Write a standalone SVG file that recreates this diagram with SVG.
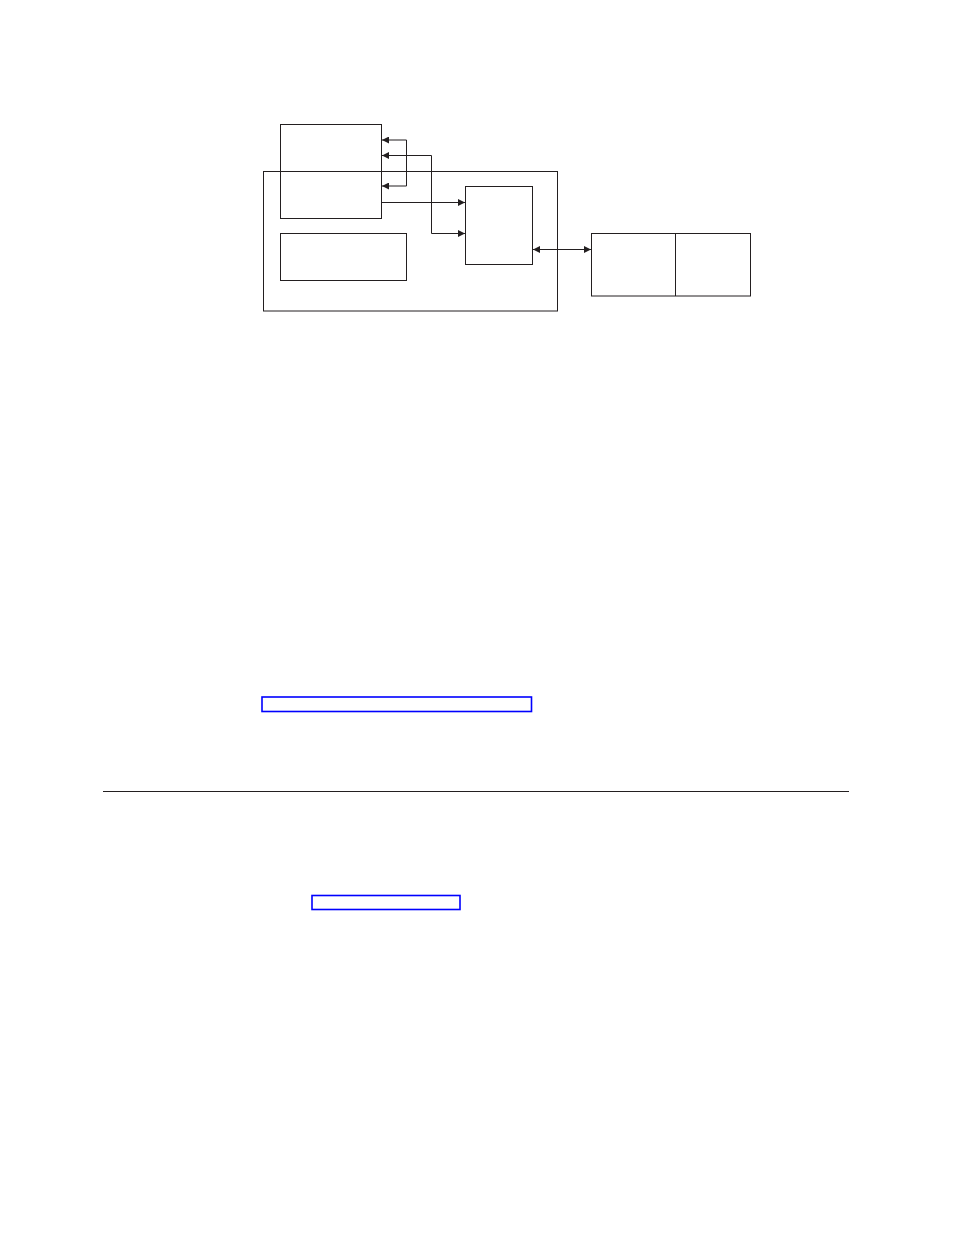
<svg xmlns="http://www.w3.org/2000/svg" width="954" height="1235" viewBox="0 0 954 1235">
<style>
.box{fill:none;stroke:#231f20;stroke-width:1}
.conn{fill:none;stroke:#231f20;stroke-width:1}
.link{fill:none;stroke:#0000ff;stroke-width:1.6}
</style>
<defs>
<marker id="ah" viewBox="0 0 10 10" refX="10" refY="5" markerWidth="9" markerHeight="7" markerUnits="userSpaceOnUse" orient="auto-start-reverse">
<path d="M0,0 L10,5 L0,10 z" fill="#231f20"/>
</marker>
</defs>
<rect width="954" height="1235" fill="#fff"/>
<g id="outer"><rect class="box" x="263.5" y="171.5" width="294" height="139.5"/></g>
<g id="nodeA"><rect class="box" x="280.5" y="124.5" width="101" height="94"/></g>
<g id="nodeB"><rect class="box" x="280.5" y="233.5" width="126" height="47"/></g>
<g id="nodeC"><rect class="box" x="465.5" y="186.5" width="67" height="78"/></g>
<g id="nodeD"><rect class="box" x="591.5" y="233.5" width="159" height="62.5"/><line class="box" x1="675.5" y1="233.5" x2="675.5" y2="296"/></g>
<g id="connectors">
<path class="conn" d="M406.5,140 L382,140" marker-end="url(#ah)"/>
<path class="conn" d="M406.5,140 L406.5,186 L382,186" marker-end="url(#ah)"/>
<path class="conn" d="M465,233.5 L431.5,233.5 L431.5,155.5 L382,155.5" marker-start="url(#ah)" marker-end="url(#ah)"/>
<path class="conn" d="M381.5,202.5 L465,202.5" marker-end="url(#ah)"/>
<path class="conn" d="M533,249.5 L591,249.5" marker-start="url(#ah)" marker-end="url(#ah)"/>
</g>
<g id="link1"><rect class="link" x="262" y="697" width="269.5" height="14.5"/></g>
<g id="rule"><line x1="103" y1="791.5" x2="849" y2="791.5" stroke="#231f20" stroke-width="1"/></g>
<g id="link2"><rect class="link" x="312" y="895.5" width="148" height="14"/></g>
</svg>
